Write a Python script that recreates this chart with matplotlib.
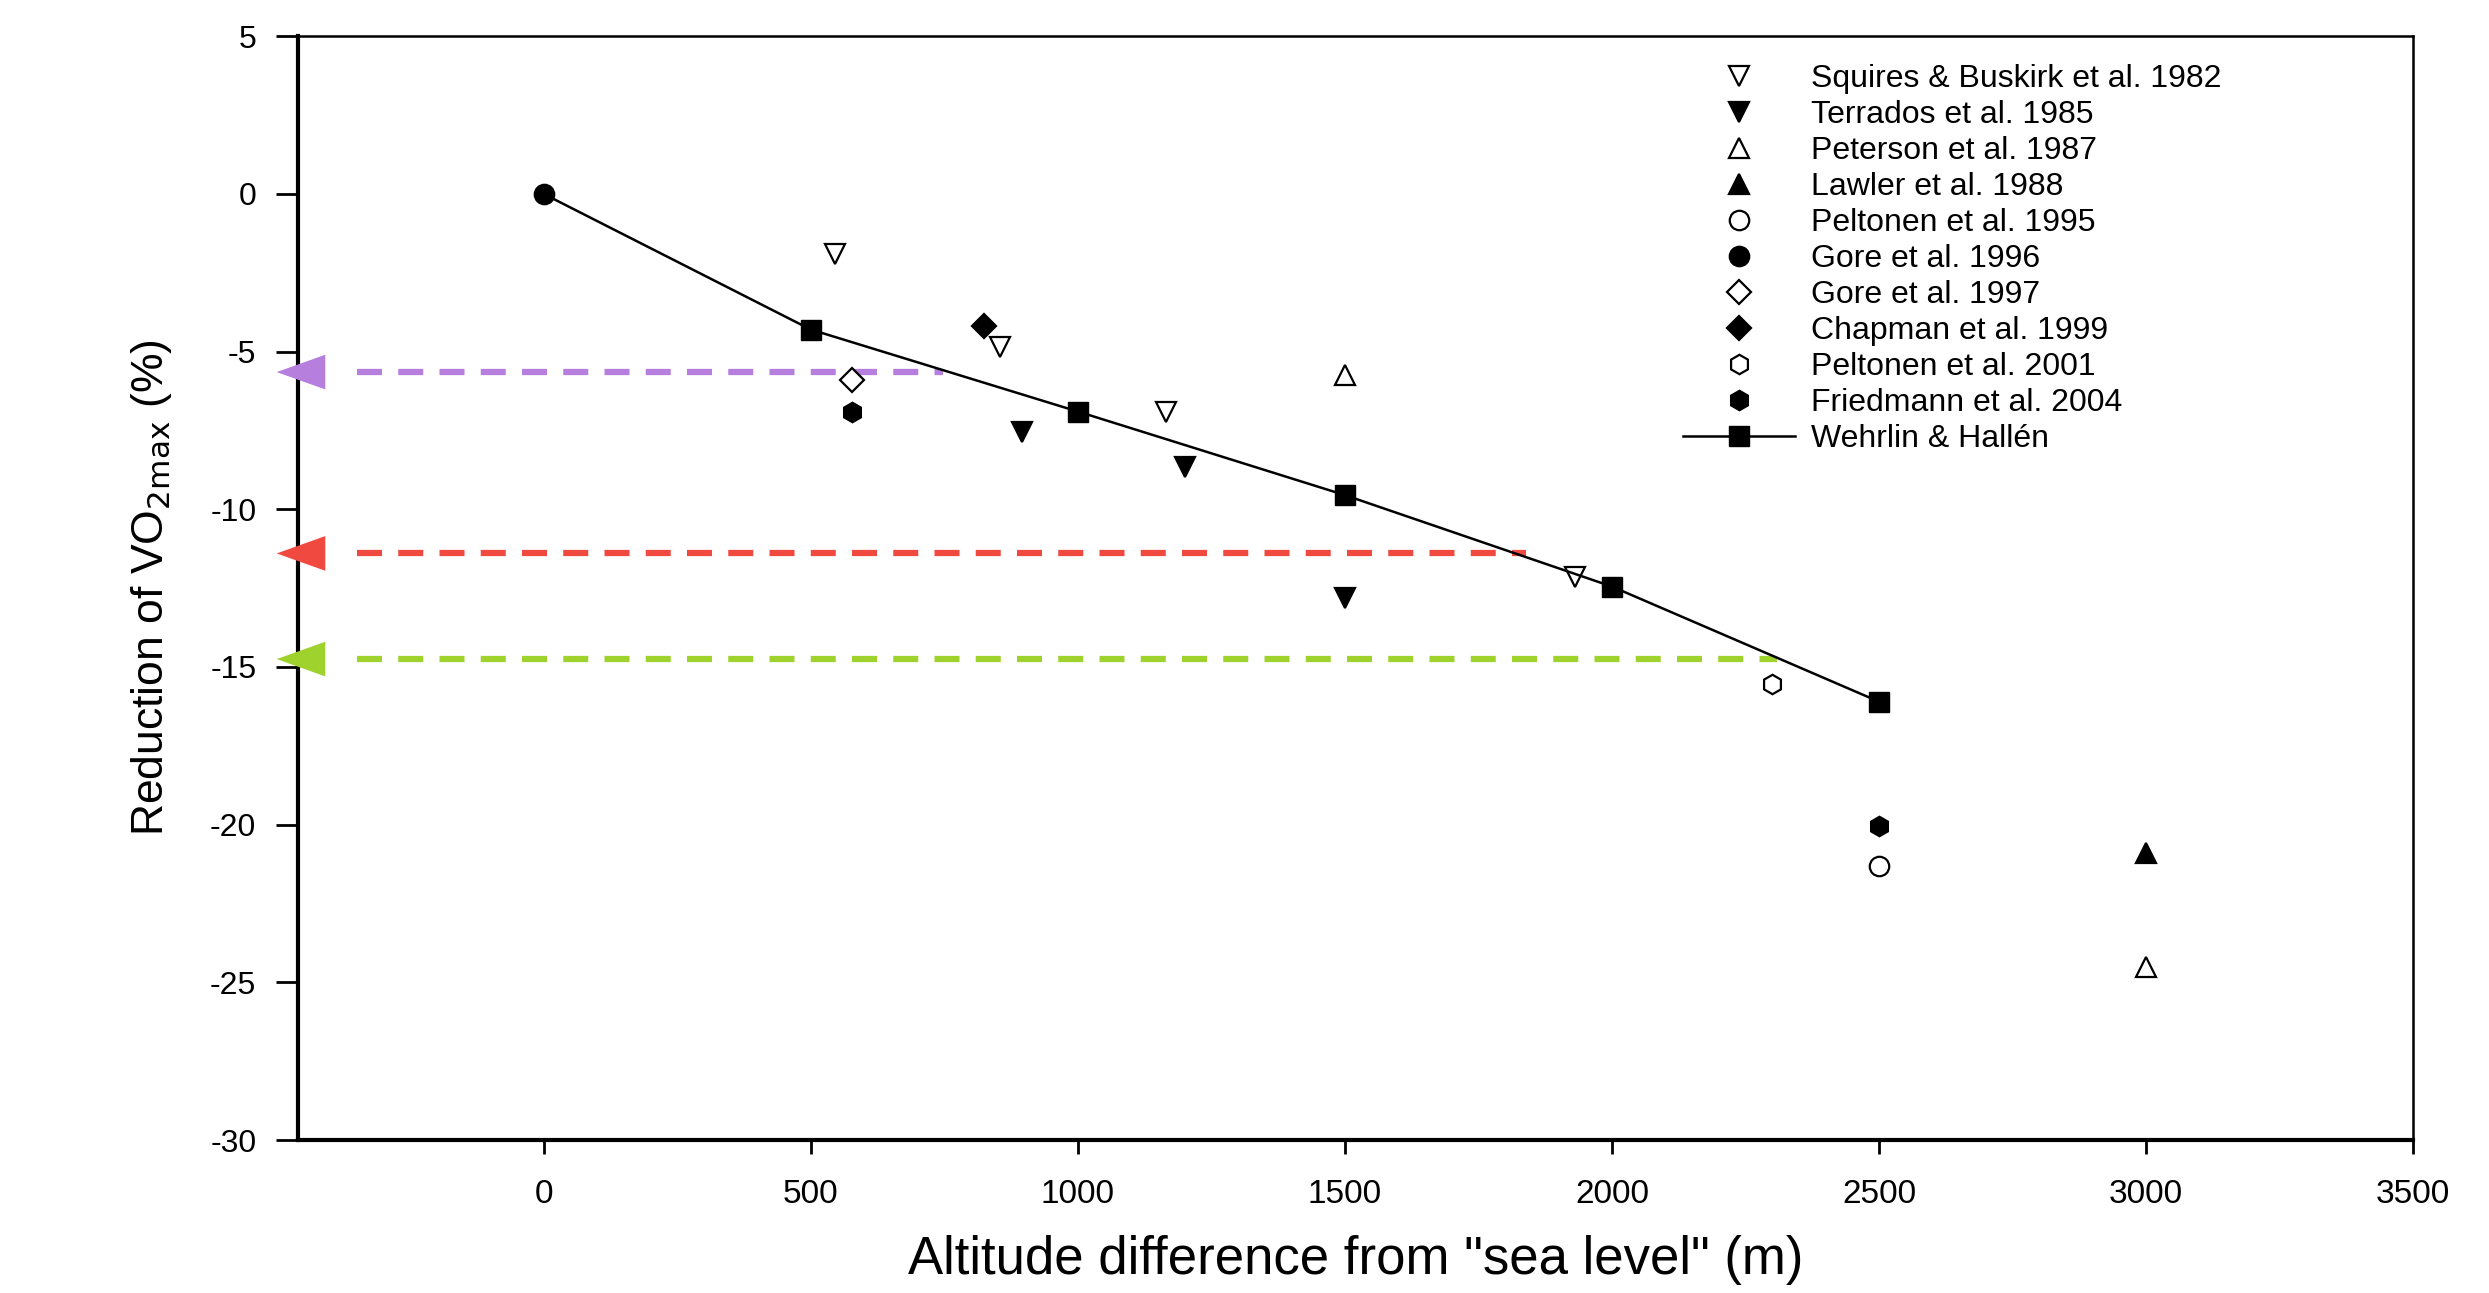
import matplotlib
matplotlib.use("Agg")
import matplotlib.pyplot as plt

plt.rcParams['font.family'] = ['Liberation Sans', 'DejaVu Sans']
plt.rcParams['axes.unicode_minus'] = False

# data (altitude m, reduction %)
squires_x = [545, 855, 1165, 1930]
squires_y = [-1.9, -4.85, -6.9, -12.15]
terrados_x = [895, 1200, 1500]
terrados_y = [-7.55, -8.65, -12.8]
peterson_x = [1500, 3000]
peterson_y = [-5.75, -24.5]
lawler_x = [3000]
lawler_y = [-20.9]
peltonen95_x = [2500]
peltonen95_y = [-21.3]
gore96_x = [0]
gore96_y = [0.0]
gore97_x = [578]
gore97_y = [-5.9]
chapman_x = [825]
chapman_y = [-4.2]
peltonen01_x = [2300]
peltonen01_y = [-15.55]
friedmann_x = [578, 2500]
friedmann_y = [-6.9, -20.05]
wehrlin_x = [0, 500, 1000, 1500, 2000, 2500]
wehrlin_y = [0.0, -4.3, -6.9, -9.55, -12.45, -16.1]

# dashed read-off lines: (end altitude, reduction, colour)
guide_x = [748, 1840, 2310]
guide_y = [-5.65, -11.4, -14.75]
guide_colors = ['#b67fde', '#f04a40', '#9fd22c']

fig = plt.figure(figsize=(24.89, 12.93), dpi=100)
ax = fig.add_axes([0.1197, 0.1183, 0.8498, 0.8537])

mk = dict(linestyle='none', color='black', markersize=14, markeredgewidth=1.6)
ax.plot(squires_x, squires_y, marker='v', mfc='white', label='Squires & Buskirk et al. 1982', **mk)
ax.plot(terrados_x, terrados_y, marker='v', label='Terrados et al. 1985', **mk)
ax.plot(peterson_x, peterson_y, marker='^', mfc='white', label='Peterson et al. 1987', **mk)
ax.plot(lawler_x, lawler_y, marker='^', label='Lawler et al. 1988', **mk)
ax.plot(peltonen95_x, peltonen95_y, marker='o', mfc='white', label='Peltonen et al. 1995', **mk)
ax.plot(gore96_x, gore96_y, marker='o', label='Gore et al. 1996', **mk)
ax.plot(gore97_x, gore97_y, marker='D', mfc='white', label='Gore et al. 1997', **{**mk, 'markersize': 12})
ax.plot(chapman_x, chapman_y, marker='D', label='Chapman et al. 1999', **{**mk, 'markersize': 12})
ax.plot(peltonen01_x, peltonen01_y, marker='h', mfc='white', label='Peltonen et al. 2001', **mk)
ax.plot(friedmann_x, friedmann_y, marker='h', label='Friedmann et al. 2004', **mk)
ax.plot(wehrlin_x, wehrlin_y, color='black', lw=1.8, marker='s', markersize=14,
        markevery=list(range(1, len(wehrlin_x))), label='Wehrlin & Hallén')

xmin, xmax = -460, 3500
for gx, gy, gc in zip(guide_x, guide_y, guide_colors):
    ax.plot([xmin + 110, gx], [gy, gy], color=gc, lw=4.5, dashes=(4, 2.6), zorder=1)
    ax.annotate('', xy=(xmin - 45, gy), xytext=(xmin + 110, gy),
                arrowprops=dict(arrowstyle='-|>,head_length=3.5,head_width=1.25',
                                mutation_scale=10, color=gc, lw=0),
                annotation_clip=False, zorder=4)

ax.set_xlim(xmin, xmax)
ax.set_ylim(-30, 5)
ax.set_xticks(range(0, 3501, 500))
ax.set_yticks(range(-30, 6, 5))
ax.tick_params(axis='x', direction='out', length=10, width=2, labelsize=24, pad=18)
ax.tick_params(axis='y', direction='out', length=16, width=2, labelsize=23, pad=14)
for s in ['left', 'bottom']:
    ax.spines[s].set_linewidth(3)
for s in ['top', 'right']:
    ax.spines[s].set_linewidth(1.8)

ax.set_xlabel('Altitude difference from "sea level" (m)', fontsize=38, labelpad=18)
ax.set_ylabel(r'Reduction of VO$_{2\mathrm{max}}$ (%)', fontsize=32, labelpad=26)

ax.legend(loc='upper left', bbox_to_anchor=(0.6487, 0.9866), frameon=False, fontsize=23,
          handlelength=3.5, handletextpad=0.5, labelspacing=0.19, borderaxespad=0)

fig.savefig('out.png', dpi=100)
